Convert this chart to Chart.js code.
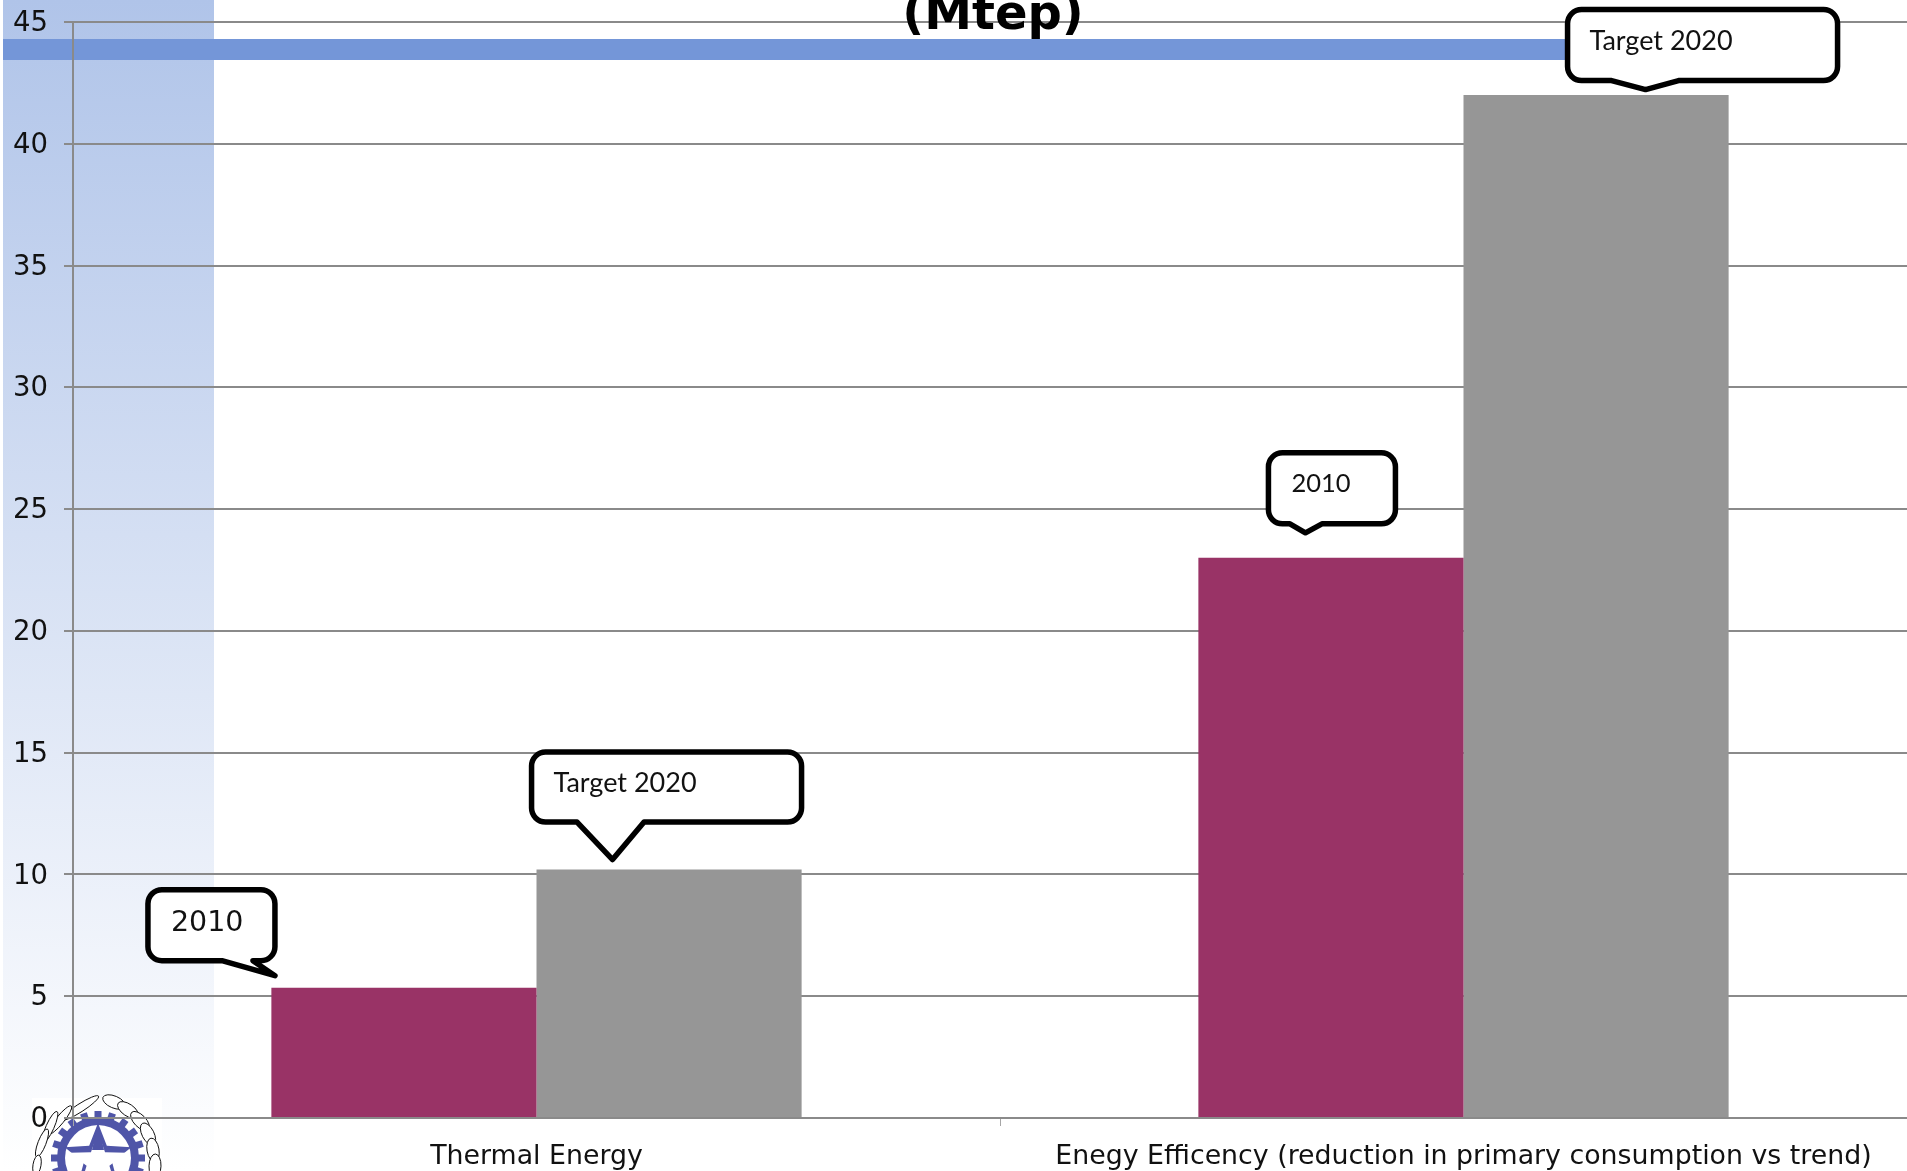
<!DOCTYPE html>
<html>
<head>
<meta charset="utf-8">
<title>Targets 2020 (Mtep)</title>
<script src="https://cdn.jsdelivr.net/npm/chart.js@4.4.3/dist/chart.umd.min.js"></script>
<style>
  html, body { margin: 0; padding: 0; width: 1907px; height: 1171px; overflow: hidden; background: #fff; }
  canvas { display: block; }
</style>
</head>
<body>
<canvas id="chart" width="1930" height="1171" style="width:1930px;height:1171px"></canvas>
<script>
/* ── Data ────────────────────────────────────────────────────────────── */
const categories = ["Thermal Energy", "Enegy Efficency (reduction in primary consumption vs trend)"];
const values2010 = [5.35, 23];
const valuesTarget = [10.2, 42];
const seriesNames = ["2010", "Target 2020"];
const titleText = "(Mtep)";

const AXIS_COLOR = "#8a8a8a";
const SANS = "'DejaVu Sans', sans-serif";
const CALLOUT_FONT = "Lato, sans-serif";

/* ── Italian emblem, bottom left ─────────────────────────────────────── */
function starPath(c, cx, cy, outer, inner) {
  c.beginPath();
  for (let i = 0; i < 10; i++) {
    const rad = i % 2 ? inner : outer;
    const a = -Math.PI / 2 + (i * Math.PI) / 5;
    c.lineTo(cx + rad * Math.cos(a), cy + rad * Math.sin(a));
  }
  c.closePath();
}

function drawEmblem(c) {
  const cx = 98, cy = 1158;
  c.save();
  c.fillStyle = "#fff";
  c.fillRect(32, 1098, 130, 73);

  // olive branch on the left, oak on the right
  c.strokeStyle = "#111";
  c.lineWidth = 1;
  [[80, 1108, 22, -0.57], [60, 1120, 18, -0.89], [50, 1127, 17, -1.15], [42, 1143, 15, -1.2], [37, 1165, 10, -1.4]].forEach(([x, y, len, rot]) => {
    c.beginPath();
    c.ellipse(x, y, len, 4, rot, 0, Math.PI * 2);
    c.fill();
    c.stroke();
  });
  [[114, 1102, 0.4], [128, 1110, 0.6], [140, 1121, 0.8], [148, 1134, 1.1], [153, 1150, 1.4], [155, 1166, 1.6]].forEach(([x, y, rot]) => {
    c.beginPath();
    c.ellipse(x, y, 12, 6, rot, 0, Math.PI * 2);
    c.fill();
    c.stroke();
  });

  // gear
  c.fillStyle = "#4f55a8";
  for (let i = 0; i < 20; i++) {
    c.save();
    c.translate(cx, cy);
    c.rotate((i / 20) * Math.PI * 2);
    c.fillRect(-3.5, -47, 7, 8);
    c.restore();
  }
  c.beginPath();
  c.arc(cx, cy, 41, 0, Math.PI * 2);
  c.fill();
  c.fillStyle = "#fff";
  c.beginPath();
  c.arc(cx, cy, 33, 0, Math.PI * 2);
  c.fill();

  // star with its blue rim
  c.fillStyle = "#4f55a8";
  starPath(c, cx, cy, 35, 15);
  c.fill();
  c.fillStyle = "#fff";
  starPath(c, cx, cy + 4, 30, 12);
  c.fill();
  c.fillStyle = "#4f55a8";
  c.beginPath();
  c.moveTo(cx, cy - 35);
  c.lineTo(cx + 6, cy - 8);
  c.lineTo(cx - 6, cy - 8);
  c.closePath();
  c.fill();
  c.restore();
}

/* ── Backdrop: faded panel, blue band, emblem, all under the axes ────── */
const backdrop = {
  id: "backdrop",
  beforeDraw(chart) {
    const c = chart.ctx;
    const fade = c.createLinearGradient(0, 0, 0, 1171);
    fade.addColorStop(0, "#b0c4e9");
    fade.addColorStop(1, "#ffffff");
    c.save();
    c.fillStyle = fade;
    c.fillRect(3, 0, 211, 1171);
    c.fillStyle = "#7496d8";
    c.fillRect(3, 39, 1700, 21);
    c.restore();
    drawEmblem(c);

    // canvas "middle" sits a touch high for DejaVu, nudge the y labels down
    chart.scales.y.getLabelItems().forEach((item) => { item.options.translation[1] += 2; });
  },
};

/* ── Speech bubbles, hung off the bar they point at ──────────────────── */
function bubble(c, bar, spec, text, font) {
  const r = 14;
  const l = bar.x + spec.l, t = bar.y + spec.t, rt = bar.x + spec.r, b = bar.y + spec.b;
  c.beginPath();
  c.moveTo(l + r, t);
  c.arcTo(rt, t, rt, b, r);
  c.arcTo(rt, b, l, b, r);
  c.lineTo(bar.x + spec.tail[1], b);
  c.lineTo(bar.x + spec.tip[0], bar.y + spec.tip[1]);
  c.lineTo(bar.x + spec.tail[0], b);
  c.arcTo(l, b, l, t, r);
  c.arcTo(l, t, rt, t, r);
  c.closePath();
  c.fillStyle = "#fff";
  c.fill();
  c.lineWidth = 5.5;
  c.lineJoin = "round";
  c.strokeStyle = "#000";
  c.stroke();
  c.fillStyle = "#111";
  c.font = font;
  c.textAlign = "left";
  c.textBaseline = "alphabetic";
  c.fillText(text, bar.x + spec.text[0], bar.y + spec.text[1]);
}

/* ── Things that sit on top of the chart ─────────────────────────────── */
const overlay = {
  id: "overlay",
  afterDraw(chart) {
    const c = chart.ctx;

    // title runs off the page and goes behind the band
    c.save();
    c.beginPath();
    c.rect(0, 0, 1930, 39);
    c.clip();
    c.fillStyle = "#000";
    c.font = "bold 48px " + SANS;
    c.textAlign = "center";
    c.textBaseline = "alphabetic";
    c.fillText(titleText, 993, 29);
    c.restore();

    const bar = (ds, i) => chart.getDatasetMeta(ds).data[i];

    bubble(c, bar(0, 0),
      { l: -256, t: -98, r: -129, b: -27, tail: [-182, -151], tip: [-129, -12], text: [-233, -57] },
      seriesNames[0], "28.5px " + SANS);
    bubble(c, bar(1, 0),
      { l: -137.5, t: -117.5, r: 132.5, b: -47.5, tail: [-92, -25], tip: [-56.5, -10], text: [-115.5, -78] },
      seriesNames[1], "27px " + CALLOUT_FONT);
    bubble(c, bar(0, 1),
      { l: -62.5, t: -105, r: 64.5, b: -34, tail: [-41, -9], tip: [-25.5, -25], text: [-39.5, -65.5] },
      seriesNames[0], "25.5px " + CALLOUT_FONT);
    bubble(c, bar(1, 1),
      { l: -28.5, t: -85.5, r: 241.5, b: -14.5, tail: [15.5, 82.5], tip: [49.5, -5.5], text: [-6.5, -45] },
      seriesNames[1], "27px " + CALLOUT_FONT);
  },
};

/* ── Chart ───────────────────────────────────────────────────────────── */
new Chart(document.getElementById("chart"), {
  type: "bar",
  data: {
    labels: categories,
    datasets: [
      { label: seriesNames[0], data: values2010, backgroundColor: "#993366" },
      { label: seriesNames[1], data: valuesTarget, backgroundColor: "#969696" },
    ],
  },
  options: {
    responsive: false,
    animation: false,
    layout: { padding: { top: 22, right: 3, left: 0, bottom: 0 } },
    plugins: { legend: { display: false }, title: { display: false }, tooltip: { enabled: false } },
    datasets: { bar: { categoryPercentage: 0.572, barPercentage: 1 } },
    scales: {
      x: {
        afterFit(scale) { scale.height = 53; },
        border: { color: AXIS_COLOR, width: 2 },
        grid: { drawOnChartArea: false, drawTicks: true, tickLength: 8, tickColor: "#a6a6a6", tickWidth: 1 },
        ticks: { color: "#111", font: { family: SANS, size: 26.8 }, maxRotation: 0, autoSkip: false, padding: 15 },
      },
      y: {
        min: 0,
        max: 45,
        // the plot starts right at the page top, labels may stick out
        afterFit(scale) { scale.width = 73; scale.paddingTop = 0; scale.paddingBottom = 0; },
        border: { color: AXIS_COLOR, width: 2 },
        grid: { color: AXIS_COLOR, lineWidth: 2, tickLength: 9 },
        ticks: { stepSize: 5, color: "#111", font: { family: SANS, size: 27.5 }, padding: 16 },
      },
    },
  },
  plugins: [backdrop, overlay],
});
</script>
</body>
</html>
